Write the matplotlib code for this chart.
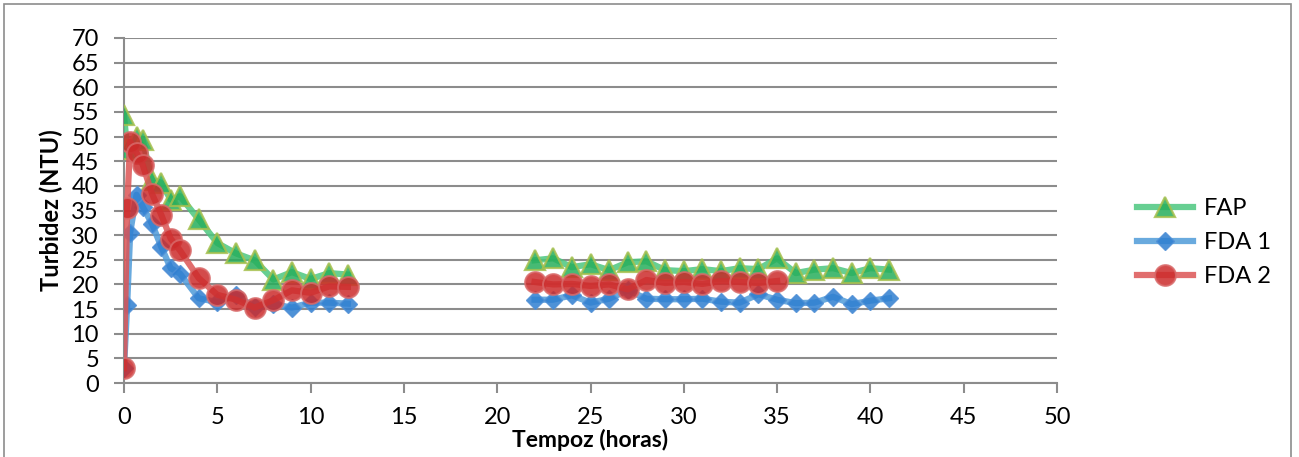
import matplotlib
matplotlib.use("Agg")
import matplotlib.pyplot as plt
from matplotlib.patches import Rectangle

plt.rcParams["font.family"] = ["Lato", "DejaVu Sans"]

t_run1 = [0, 0.17, 0.33, 0.67, 1, 1.5, 2, 2.5, 3, 4, 5, 6, 7, 8, 9, 10, 11, 12]
t_run2 = [22, 23, 24, 25, 26, 27, 28, 29, 30, 31, 32, 33, 34, 35, 36, 37, 38, 39, 40, 41]

fap_run1 = [54.3, 47.5, None, 50.0, 49.3, 41.2, 40.6, 37.2, 37.9, 33.2, 28.4, 26.3, 24.9, 21.0, 22.5, 21.1, 22.3, 22.0]
fap_run2 = [24.9, 25.3, 23.5, 24.1, 22.9, 24.5, 24.7, 22.9, 22.7, 23.1, 22.7, 23.3, 23.1, 25.3, 22.3, 23.0, 23.3, 22.3, 23.3, 23.0]

fda1_run1 = [3.0, 15.9, 30.5, 38.2, 35.8, 32.3, 27.6, 23.3, 22.2, 17.2, 16.4, 17.8, 15.4, 16.0, 15.3, 16.3, 16.3, 16.1]
fda1_run2 = [16.9, 16.9, 17.8, 16.3, 17.1, 18.8, 17.1, 17.0, 17.0, 17.1, 16.5, 16.3, 18.0, 16.9, 16.2, 16.3, 17.5, 16.0, 16.7, 17.2]

fda2_run1 = [3.0, 35.6, 49.0, 46.7, 44.3, 38.4, 34.1, 29.3, 26.9, 21.3, 17.9, 16.9, 15.3, 16.8, 18.8, 18.3, 19.6, 19.5]
fda2_run2 = [20.5, 20.0, 20.1, 19.7, 20.0, 19.0, 20.9, 20.3, 20.5, 20.1, 20.7, 20.5, 20.3, 20.7]

x_ticks = list(range(0, 51, 5))
y_ticks = list(range(0, 71, 5))


def drop_missing(ts, vs):
    pairs = [(t, v) for t, v in zip(ts, vs) if v is not None]
    return [p[0] for p in pairs], [p[1] for p in pairs]


W, H = 1299, 457
fig = plt.figure(figsize=(W / 100, H / 100), dpi=100)
ax = fig.add_axes([124 / W, 1 - 383 / H, (1057 - 124) / W, (383 - 38) / H])

# outer chart frame
fig.patches.append(Rectangle((4 / W, -0.05), (1291 - 4) / W, 1.05 - 4 / H,
                             transform=fig.transFigure, fill=False,
                             edgecolor="#8c8c8c", linewidth=1.2))

styles = {
    "FAP":   dict(color="#4cc77f", marker="^", ms=15, mfc="#27ae5c", mec="#a6c04e", mew=1.6, zorder=3),
    "FDA 1": dict(color="#4f9bd9", marker="D", ms=9,  mfc="#2f7fd1", mec="#4f8fd6", mew=1.0, zorder=4),
    "FDA 2": dict(color="#dc5555", marker="o", ms=15, mfc="#cc2b2b", mec="#d86a6a", mew=1.4, zorder=5),
}
series = [
    ("FAP",   fap_run1,  fap_run2),
    ("FDA 1", fda1_run1, fda1_run2),
    ("FDA 2", fda2_run1, fda2_run2),
]
for name, run1, run2 in series:
    st = styles[name]
    x1, y1 = drop_missing(t_run1, run1)
    x2, y2 = drop_missing(t_run2[:len(run2)], run2)
    ax.plot(x1, y1, lw=4.5, alpha=0.85, label=name, **st)
    ax.plot(x2, y2, lw=4.5, alpha=0.85, **st)

ax.set_xlim(0, 50)
ax.set_ylim(0, 70)
ax.set_xticks(x_ticks)
ax.set_yticks(y_ticks)
ax.tick_params(axis="both", labelsize=17, color="#8c8c8c", length=7, width=1.5, direction="out")
ax.tick_params(axis="x", pad=10)
ax.tick_params(axis="y", pad=11)
ax.grid(True, axis="y", color="#8c8c8c", lw=1.5)
ax.set_axisbelow(True)
for s in ["top", "right"]:
    ax.spines[s].set_visible(False)
for s in ["left", "bottom"]:
    ax.spines[s].set_color("#8c8c8c")
    ax.spines[s].set_linewidth(1.5)

ax.set_xlabel("Tempoz (horas)", fontsize=16.5, fontweight="bold", labelpad=1)
ax.set_ylabel("Turbidez (NTU)", fontsize=17, fontweight="bold", labelpad=6)

ax.legend(loc="center left", bbox_to_anchor=(1.0857, 0.406), frameon=False,
          fontsize=17, handlelength=2.37, labelspacing=0.55, handletextpad=0.45,
          borderaxespad=0, borderpad=0)

fig.savefig("out.png", dpi=100)
